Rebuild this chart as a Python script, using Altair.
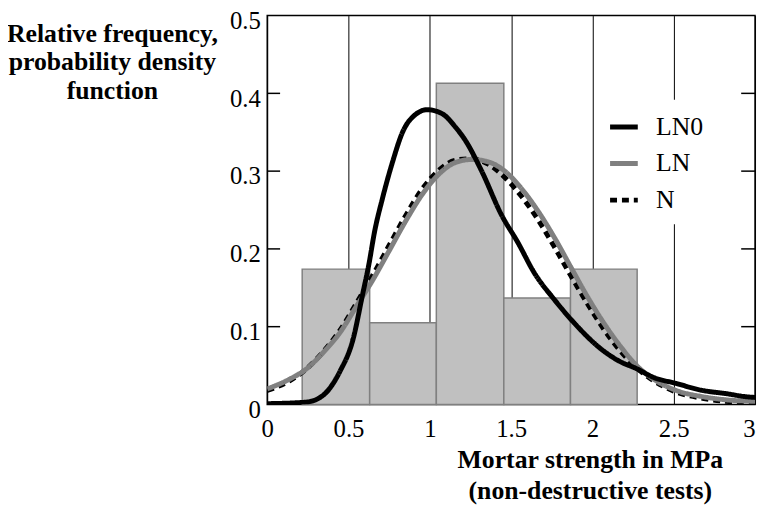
import altair as alt
import pandas as pd

# ---- data ----
bin_start = [0.215, 0.63, 1.04, 1.455, 1.865]
bin_end = [0.63, 1.04, 1.455, 1.865, 2.275]
rel_freq = [0.174, 0.105, 0.413, 0.137, 0.174]

ln0_x = [0.0, 0.24, 0.345, 0.446, 0.528, 0.588, 0.625, 0.66, 0.71, 0.771, 0.832, 0.913, 0.984,
         1.075, 1.156, 1.217, 1.319, 1.44, 1.542, 1.643, 1.765, 1.887, 2.049, 2.171, 2.272,
         2.373, 2.515, 2.677, 2.819, 2.941, 3.0]
ln0_y = [0.001, 0.003, 0.012, 0.042, 0.084, 0.143, 0.18, 0.222, 0.266, 0.312, 0.35, 0.373, 0.379,
         0.374, 0.357, 0.34, 0.3, 0.244, 0.208, 0.169, 0.135, 0.105, 0.072, 0.055, 0.046,
         0.035, 0.027, 0.018, 0.014, 0.01, 0.009]

ln_x = [0.0, 0.142, 0.243, 0.345, 0.446, 0.548, 0.649, 0.751, 0.852, 0.953, 1.055, 1.156, 1.258,
        1.359, 1.461, 1.562, 1.664, 1.765, 1.866, 1.968, 2.069, 2.171, 2.272, 2.373, 2.515,
        2.677, 2.819, 3.0]
ln_y = [0.02, 0.033, 0.046, 0.067, 0.092, 0.126, 0.16, 0.198, 0.236, 0.27, 0.296, 0.311, 0.315,
        0.312, 0.3, 0.278, 0.249, 0.215, 0.177, 0.139, 0.105, 0.075, 0.05, 0.033, 0.018,
        0.01, 0.006, 0.004]

n_x = [0.0, 0.142, 0.243, 0.345, 0.446, 0.548, 0.649, 0.751, 0.852, 0.953, 1.055, 1.156, 1.258,
       1.359, 1.461, 1.562, 1.664, 1.765, 1.866, 1.968, 2.069, 2.171, 2.272, 2.373, 2.515,
       2.677, 2.819, 3.0]
n_y = [0.018, 0.031, 0.046, 0.068, 0.095, 0.13, 0.166, 0.205, 0.243, 0.277, 0.301, 0.314, 0.316,
       0.309, 0.292, 0.268, 0.238, 0.203, 0.166, 0.13, 0.097, 0.069, 0.047, 0.031, 0.016,
       0.008, 0.004, 0.002]

series_names = ["LN0", "LN", "N"]
series_colors = ["#000000", "#808080", "#000000"]
series_widths = [5, 5, 1.5]
series_dashes = [[1, 0], [1, 0], [7, 5]]
x_ticks = [0, 0.5, 1, 1.5, 2, 2.5, 3]
y_ticks = [0, 0.1, 0.2, 0.3, 0.4, 0.5]
inner_ticks = [0.1, 0.2, 0.3, 0.4]
x_title = ["Mortar strength in MPa", "(non-destructive tests)"]
y_title = ["Relative frequency,", "probability density", "function"]

# ---- tables ----
bars_df = pd.DataFrame({"start": bin_start, "end": bin_end, "freq": rel_freq})
curves_df = pd.concat([
    pd.DataFrame({"x": n_x, "y": n_y, "series": "N"}),
    pd.DataFrame({"x": ln_x, "y": ln_y, "series": "LN"}),
    pd.DataFrame({"x": ln0_x, "y": ln0_y, "series": "LN0"}),
], ignore_index=True)
ticks_df = pd.DataFrame({"v": inner_ticks})

W, H = 493, 393
FONT = "Liberation Serif"

xs = alt.Scale(domain=[0, 3], nice=False, zero=False)
ys = alt.Scale(domain=[0, 0.5], nice=False)

x_axis = alt.Axis(
    values=x_ticks, format="~g", grid=True, gridColor="black", gridWidth=1, gridOpacity=1,
    ticks=False, tickSize=0, domain=False, labelFont=FONT, labelFontSize=25, labelColor="black",
    labelPadding=12, labelFlush=False, labelOverlap=False,
    labelAlign={"condition": {"test": "datum.value >= 3", "value": "right"}, "value": "center"},
    title=x_title, titleFont=FONT, titleFontSize=26, titleFontWeight="bold", titleColor="black",
    titleX=326, titleY=43, titleAlign="center", titleBaseline="top", titleLineHeight=31,
)
y_axis = alt.Axis(
    values=y_ticks, format="~g", grid=False, ticks=False, tickSize=0, domain=False,
    labelFont=FONT, labelFontSize=25, labelColor="black", labelPadding=7, labelOffset=5,
    labelFlush=False, labelOverlap=False,
    title=y_title, titleFont=FONT, titleFontSize=26, titleFontWeight="bold", titleColor="black",
    titleAngle=0, titleX=-157, titleY=5, titleAlign="center", titleBaseline="top",
    titleLineHeight=29,
)

legend_def = alt.Legend(
    title=None, orient="none", legendX=333, legendY=85, fillColor="white", padding=11,
    symbolType="stroke", symbolSize=784, symbolStrokeWidth=5.5,
    labelFont=FONT, labelFontSize=26, labelColor="black", labelOffset=16, rowPadding=7,
)

bars = alt.Chart(bars_df).mark_rect(fill="#c0c0c0", stroke="#808080", strokeWidth=1.5).encode(
    x=alt.X("start:Q", scale=xs, axis=x_axis),
    x2="end:Q",
    y=alt.Y("freq:Q", scale=ys, axis=y_axis),
    y2=alt.datum(0),
)

lines = alt.Chart(curves_df).mark_line(clip=True, interpolate="monotone").encode(
    x=alt.X("x:Q", scale=xs, axis=x_axis),
    y=alt.Y("y:Q", scale=ys, axis=y_axis),
    color=alt.Color("series:N", scale=alt.Scale(domain=series_names, range=series_colors),
                    legend=legend_def),
    strokeDash=alt.StrokeDash("series:N",
                              scale=alt.Scale(domain=series_names, range=series_dashes),
                              legend=legend_def),
    strokeWidth=alt.StrokeWidth("series:N",
                                scale=alt.Scale(domain=series_names, range=series_widths),
                                legend=None),
)

left_ticks = alt.Chart(ticks_df).mark_rule(color="black", strokeWidth=1.5).encode(
    y=alt.Y("v:Q", scale=ys, axis=y_axis), x=alt.value(0), x2=alt.value(13)
)
right_ticks = alt.Chart(ticks_df).mark_rule(color="black", strokeWidth=1.5).encode(
    y=alt.Y("v:Q", scale=ys, axis=y_axis), x=alt.value(W - 14), x2=alt.value(W)
)

chart = (
    alt.layer(bars, lines, left_ticks, right_ticks)
    .properties(
        width=W, height=H,
        background="white",
        autosize=alt.AutoSizeParams(type="none"),
        padding={"left": 262, "top": 5, "right": 3, "bottom": 103},
    )
    .configure_view(stroke="black", strokeWidth=1.5)
)

chart.save("out.html", embed_options={"renderer": "svg", "actions": False})
